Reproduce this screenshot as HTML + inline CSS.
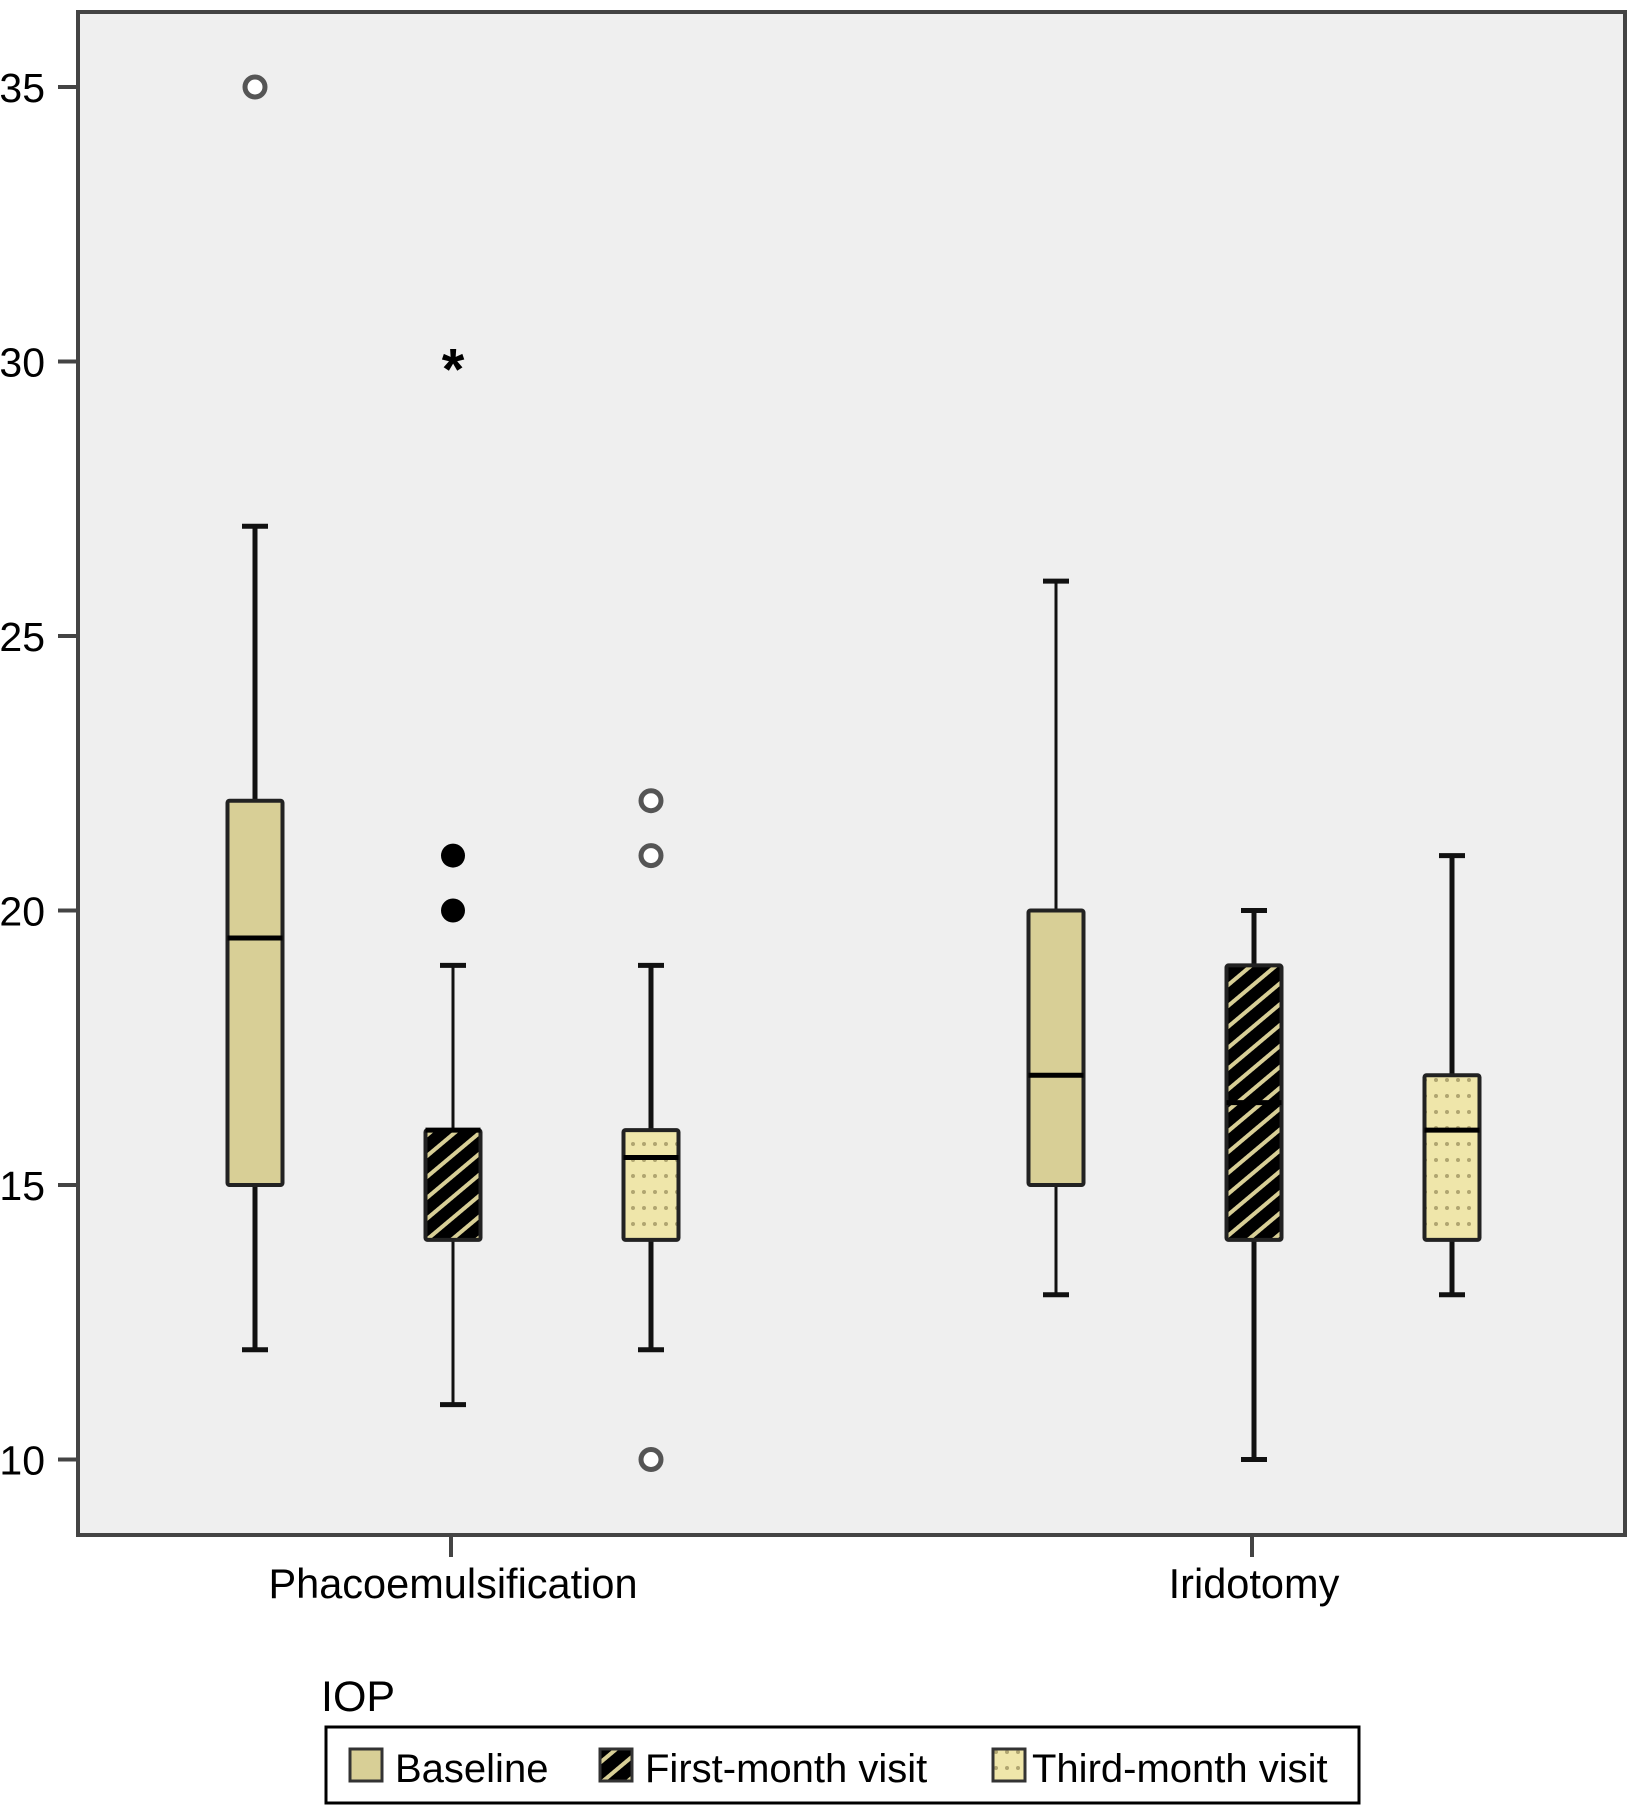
<!DOCTYPE html>
<html><head><meta charset="utf-8"><style>
html,body{margin:0;padding:0;background:#fff;}
svg{display:block;font-family:"Liberation Sans",Arial,sans-serif;}
</style></head><body>
<svg id="chart" width="1633" height="1806" viewBox="0 0 1633 1806" xmlns="http://www.w3.org/2000/svg">
<defs>
<pattern id="hatch" patternUnits="userSpaceOnUse" width="16" height="16" patternTransform="rotate(-40)">
<rect width="16" height="16" fill="#000"/><rect y="6" width="16" height="4" fill="#d8cf96"/>
</pattern>
<pattern id="dots" patternUnits="userSpaceOnUse" width="22" height="16">
<rect width="22" height="16" fill="#efe6aa"/><circle cx="6" cy="8" r="2" fill="#b0a570"/><circle cx="17" cy="8" r="2" fill="#b0a570"/>
</pattern>
</defs>
<rect x="78" y="12" width="1547" height="1523" fill="#efefef" stroke="#444" stroke-width="4"/>
<g id="yaxis"></g><g id="xaxis"></g><g id="boxes"></g>
<text x="321" y="1711" font-size="43" fill="#000">IOP</text>
<rect x="326" y="1727" width="1033" height="76" fill="#fff" stroke="#000" stroke-width="3"/>
<g>
<rect x="350" y="1749" width="32" height="32" fill="#d8cf96" stroke="#333" stroke-width="3"/>
<text x="395" y="1782" font-size="40">Baseline</text></g>
<g>
<rect x="600" y="1749" width="32" height="32" fill="url(#hatch)" stroke="#333" stroke-width="3"/>
<text x="645" y="1782" font-size="40">First-month visit</text></g>
<g>
<rect x="993" y="1749" width="32" height="32" fill="url(#dots)" stroke="#333" stroke-width="3"/>
<text x="1032" y="1782" font-size="40">Third-month visit</text></g>
</svg>
<script>
const yTicks=[10,15,20,25,30,35];
const groups=["Phacoemulsification","Iridotomy"];
const series=["Baseline","First-month visit","Third-month visit"];
const mins=[[12,11,12],[13,10,13]];
const q1s=[[15,14,14],[15,14,14]];
const medians=[[19.5,16,15.5],[17,16.5,16]];
const q3s=[[22,16,16],[20,19,17]];
const maxs=[[27,19,19],[26,20,21]];
const openOutliers=[[[35],[],[22,21,10]],[[],[],[]]];
const filledOutliers=[[[],[21,20],[]],[[],[],[]]];
const extremes=[[[],[30],[]],[[],[],[]]];
const NS="http://www.w3.org/2000/svg";
function y(v){return 87+(35-v)*54.9;}
function gx(g){return 451+g*801;}
function bx(g,s){return gx(g)+(s-1)*198;}
function mk(tag,attrs,parent){const e=document.createElementNS(NS,tag);for(const k in attrs)e.setAttribute(k,attrs[k]);parent.appendChild(e);return e;}
const ya=document.getElementById('yaxis');
yTicks.forEach(t=>{
 const l=mk('line',{x1:58,x2:78,y1:y(t),y2:y(t),stroke:'#444','stroke-width':4},ya);
 
 
 const tx=mk('text',{x:45,y:y(t)+15,'font-size':41,'text-anchor':'end'},ya);tx.textContent=t;
 
 
});
const xa=document.getElementById('xaxis');
groups.forEach((g,i)=>{
 const l=mk('line',{x1:gx(i),x2:gx(i),y1:1535,y2:1557,stroke:'#444','stroke-width':4},xa);
 
 
 const t=mk('text',{x:gx(i)+2,y:1598,'font-size':41.5,'text-anchor':'middle'},xa);t.textContent=g;
 
 
});
const bg=document.getElementById('boxes');
const fills=['#d8cf96','url(#hatch)','url(#dots)'];
groups.forEach((g,gi)=>series.forEach((s,si)=>{
 const c=bx(gi,si)+2,w=55;
 const grp=mk('g',{},bg);
 
 
 const sw=(si===1&&gi===0)||(si===0&&gi===1)?3:5;
 mk('line',{x1:c,x2:c,y1:y(maxs[gi][si]),y2:y(mins[gi][si]),stroke:'#111','stroke-width':sw},grp);
 [maxs[gi][si],mins[gi][si]].forEach(v=>mk('line',{x1:c-13,x2:c+13,y1:y(v),y2:y(v),stroke:'#111','stroke-width':5},grp));
 mk('rect',{x:c-w/2,y:y(q3s[gi][si]),width:w,height:y(q1s[gi][si])-y(q3s[gi][si]),fill:fills[si],stroke:'#222','stroke-width':4,rx:2},grp);
 mk('line',{x1:c-w/2,x2:c+w/2,y1:y(medians[gi][si]),y2:y(medians[gi][si]),stroke:'#000','stroke-width':5},grp);
 openOutliers[gi][si].forEach(v=>{const o=mk('circle',{cx:c,cy:y(v),r:10,fill:'#fff',stroke:'#555','stroke-width':5},bg);
  
  });
 filledOutliers[gi][si].forEach(v=>{const o=mk('circle',{cx:c,cy:y(v),r:12,fill:'#000'},bg);
  
  });
 extremes[gi][si].forEach(v=>{const o=mk('text',{x:c,y:y(v)+28,'font-size':58,'text-anchor':'middle','font-weight':'bold'},bg);o.textContent='*';
  
  });
}));
</script>
</body></html>
